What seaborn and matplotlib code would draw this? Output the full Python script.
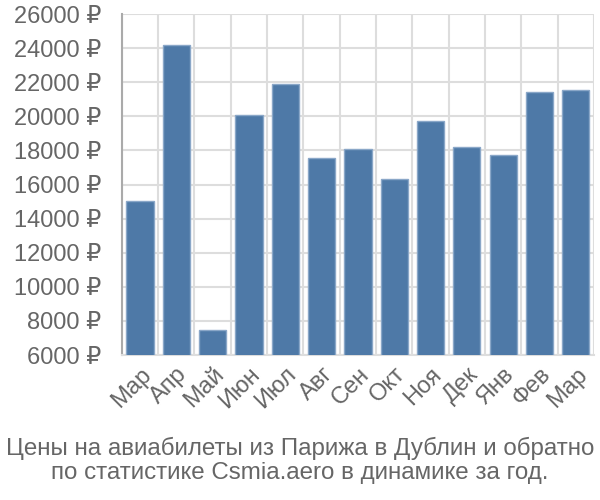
import matplotlib
matplotlib.use("Agg")
import matplotlib.pyplot as plt
import seaborn as sns
import pandas as pd
import numpy as np

months = ["Мар", "Апр", "Май", "Июн", "Июл", "Авг", "Сен", "Окт", "Ноя", "Дек", "Янв", "Фев", "Мар"]
prices = [15050, 24200, 7470, 20050, 21900, 17550, 18100, 16350, 19750, 18200, 17750, 21430, 21540]
yticks = list(range(6000, 26001, 2000))
title = "Цены на авиабилеты из Парижа в Дублин и обратно\nпо статистике Csmia.aero в динамике за год."

sns.set_style("white")
plt.rcParams['font.family'] = ['Liberation Sans', 'DejaVu Sans']

df = pd.DataFrame({"pos": [str(i) for i in range(len(months))], "price": prices})

fig = plt.figure(figsize=(6, 5), dpi=100)
ax = fig.add_axes([0.203, 0.29, 0.787, 0.682])

sns.barplot(data=df, x="pos", y="price", ax=ax, color="#4e79a7", saturation=1,
            width=0.75, edgecolor="#8aa7c8", linewidth=1, zorder=3)

ax.set_ylim(6000, 26000)
ax.set_xlim(-0.5, len(months) - 0.5)
ax.set_yticks(yticks)
ax.set_yticklabels([f"{v} ₽" for v in yticks], fontsize=17, color="#666666")
ax.set_xticks(range(len(months)))
ax.set_xticklabels(months, rotation=45, ha="right", rotation_mode="anchor",
                   fontsize=17, color="#666666")
ax.set_xticks(np.arange(-0.5, len(months), 1.0), minor=True)
ax.tick_params(axis="x", which="major", length=0, pad=6)
ax.tick_params(axis="x", which="minor", length=14, color="#dddddd", width=1.5)
ax.tick_params(axis="y", length=14, color="#dddddd", width=1.5, pad=1)
ax.grid(axis="y", color="#dddddd", linewidth=1.5, zorder=0)
ax.grid(axis="x", which="minor", color="#dddddd", linewidth=1.5, zorder=0)
ax.set_axisbelow(True)
for s in ["top", "right"]:
    ax.spines[s].set_visible(False)
ax.spines["bottom"].set_color("#dddddd")
ax.spines["bottom"].set_linewidth(1.5)
ax.spines["left"].set_color("#aaaaaa")
ax.spines["left"].set_linewidth(1.5)
ax.set_xlabel("")
ax.set_ylabel("")

fig.text(0.5, 0.032, title, ha="center", va="bottom", fontsize=17.4, color="#666666", linespacing=1.1)

fig.savefig("out.png", dpi=100)
